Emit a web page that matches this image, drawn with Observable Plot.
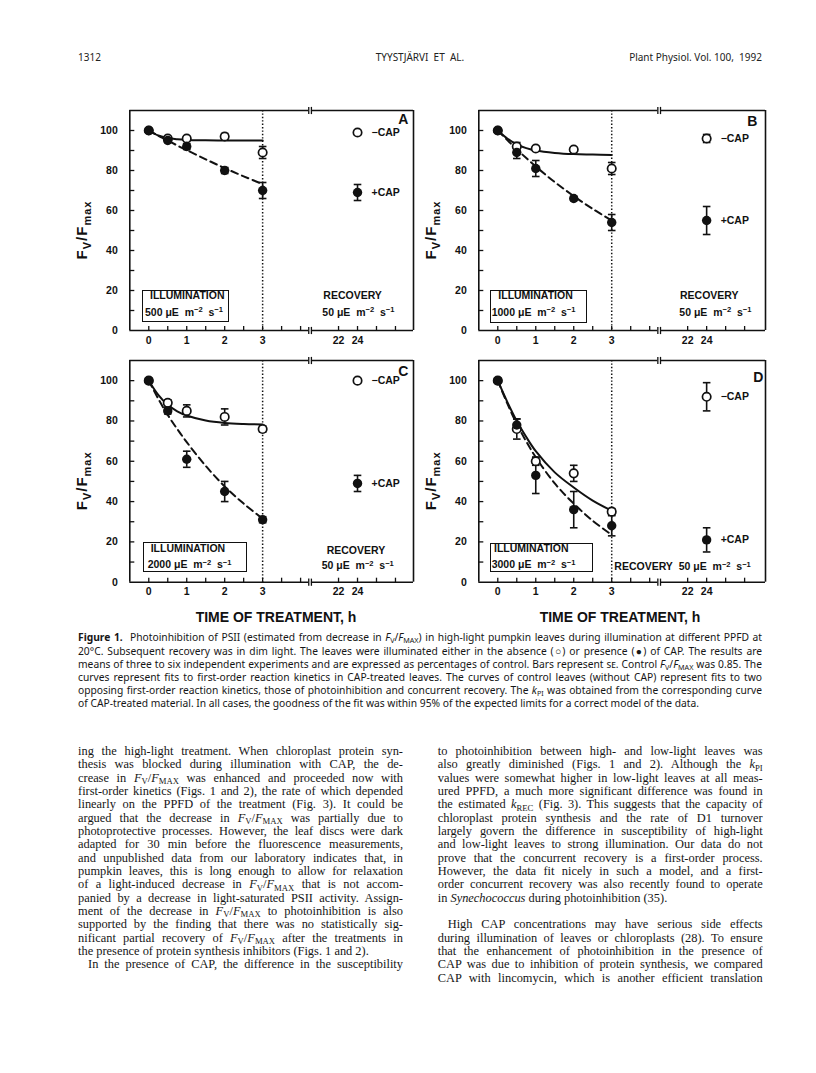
<!DOCTYPE html>
<html><head><meta charset="utf-8">
<script src="https://cdn.jsdelivr.net/npm/d3@7"></script>
<script src="https://cdn.jsdelivr.net/npm/@observablehq/plot@0.6"></script>
<style>
html,body{margin:0;padding:0;background:#fff;}
#page{position:relative;width:816px;height:1073px;overflow:hidden;background:#fff;color:#161616;}
.a{position:absolute;white-space:nowrap;}
.pl{font-family:"Liberation Sans",Arial,sans-serif;font-weight:bold;font-size:10.5px;line-height:12px;color:#111;}
.box{position:absolute;border:1.4px solid #111;box-sizing:border-box;}
.pl sup{font-size:72%;position:relative;top:-0.42em;vertical-align:baseline;line-height:0;}
sub.s{font-size:70%;vertical-align:baseline;position:relative;top:0.28em;line-height:0;}
.sc{font-variant:small-caps;}
.ttl{font-family:"Liberation Sans",Arial,sans-serif;font-weight:bold;font-size:14px;line-height:16px;color:#111;}
.hdr{font-family:"Noto Sans","Open Sans",sans-serif;font-size:10px;line-height:12px;color:#222;}
</style></head><body><div id="page"></div>
<script>
// ---------------- data ----------------
const panelLetters = ["A", "B", "C", "D"];
const illuminationPPFD = [500, 1000, 2000, 3000];
const recoveryPPFD = 50;
const hours = [0, 0.5, 1, 2, 3];
const recoveryHour = 24;
const lightOffHour = 3;
const fitHours = [0, 0.25, 0.5, 0.75, 1, 1.5, 2, 2.5, 3];

// -CAP (open circles) means and SE
const minusCAP_A = [100, 96, 96, 97, 89];
const minusCAP_A_se = [0, 1, 1, 1.5, 3];
const minusCAP_B = [100, 92, 91, 90.5, 81];
const minusCAP_B_se = [0, 2, 1, 1, 3];
const minusCAP_C = [100, 89, 85, 82, 76];
const minusCAP_C_se = [0, 1.5, 3, 4, 1.5];
const minusCAP_D = [100, 76, 60, 54, 35];
const minusCAP_D_se = [0, 5, 2, 4, 1.5];

// +CAP (filled circles) means and SE
const plusCAP_A = [100, 95, 92, 80, 70];
const plusCAP_A_se = [0, 1, 1.5, 1.5, 4];
const plusCAP_B = [100, 89, 81, 66, 54];
const plusCAP_B_se = [0, 3, 4, 1, 4];
const plusCAP_C = [100, 85, 61, 45, 31];
const plusCAP_C_se = [0, 1.5, 4, 5, 1.5];
const plusCAP_D = [100, 78, 53, 36, 28];
const plusCAP_D_se = [0, 3, 9, 9, 5];

// recovery at 24 h (panels A-D)
const recoveryMinusCAP = [99, 96, 100, 92];
const recoveryMinusCAP_se = [1, 2, 1, 7];
const recoveryPlusCAP = [69, 55, 49, 21];
const recoveryPlusCAP_se = [4, 7, 4, 6];

// fitted curves at fitHours
const fitMinusCAP_A = [100, 97.5, 96.2, 95.6, 95.3, 95.1, 95, 95, 95];
const fitPlusCAP_A  = [100, 97.4, 95, 92.5, 90.2, 85.6, 81.2, 77.1, 73.2];
const fitMinusCAP_B = [100, 96, 93, 91.2, 90, 88.8, 88.2, 88, 87.8];
const fitPlusCAP_B  = [100, 95.2, 90.6, 86.2, 82, 74.2, 67.2, 60.8, 55];
const fitMinusCAP_C = [100, 93, 88, 84.8, 82.7, 80.2, 79, 78.5, 78.3];
const fitPlusCAP_C  = [100, 91, 83, 76, 69.5, 57.7, 47.5, 39, 31.5];
const fitMinusCAP_D = [100, 89.5, 80, 72, 65, 54.5, 47, 40.5, 35.5];
const fitPlusCAP_D  = [100, 88.7, 78.5, 69.8, 62, 49, 39, 30.5, 23.5];

const xTickHours = [0, 1, 2, 3, 22, 24];
const xMinorTickHours = [0, 0.5, 1, 1.5, 2, 2.5, 3, 3.5, 4, 22, 24, 26, 28];
const yTickValues = [0, 20, 40, 60, 80, 100];
const yMinorTickValues = [10, 20, 30, 40, 50, 60, 70, 80, 90, 100];
const seriesLabels = ["\u2212CAP", "+CAP"];

const minusSeries = [minusCAP_A, minusCAP_B, minusCAP_C, minusCAP_D];
const minusSeriesSE = [minusCAP_A_se, minusCAP_B_se, minusCAP_C_se, minusCAP_D_se];
const plusSeries = [plusCAP_A, plusCAP_B, plusCAP_C, plusCAP_D];
const plusSeriesSE = [plusCAP_A_se, plusCAP_B_se, plusCAP_C_se, plusCAP_D_se];
const fitMinusSeries = [fitMinusCAP_A, fitMinusCAP_B, fitMinusCAP_C, fitMinusCAP_D];
const fitPlusSeries = [fitPlusCAP_A, fitPlusCAP_B, fitPlusCAP_C, fitPlusCAP_D];

// ---------------- broken time axis ----------------
const BREAK_U = 4.25, RIGHT_ORIGIN_HOUR = 19, RIGHT_HOURS_PER_UNIT = 4;
const brk = t => t <= BREAK_U ? t : BREAK_U + (t - RIGHT_ORIGIN_HOUR) / RIGHT_HOURS_PER_UNIT;

const sym = f => ({draw(ctx, size) { f(ctx, Math.sqrt(size / Math.PI)); }});
const capSym = sym((c, r) => { c.moveTo(-r, 0); c.lineTo(r, 0); });
const hTickSym = sym((c, r) => { c.moveTo(0, 0); c.lineTo(r, 0); });
const upTickSym = sym((c, r) => { c.moveTo(0, 0); c.lineTo(0, -r); });
const vBarSym = sym((c, r) => { c.moveTo(0, -r); c.lineTo(0, r); });

const page = document.getElementById("page");
const INK = "#111";

const layouts = [
  {left: 80,  top: 100, width: 340, height: 255, mL: 49.3, mR: 7,  mT: 10, mB: 25,   xMaxHour: 29.9},
  {left: 430, top: 100, width: 345, height: 255, mL: 48.3, mR: 10, mT: 10, mB: 25,   xMaxHour: 30.2},
  {left: 80,  top: 350, width: 340, height: 257, mL: 49.3, mR: 7,  mT: 10, mB: 25.3, xMaxHour: 29.9},
  {left: 430, top: 350, width: 345, height: 257, mL: 48.3, mR: 10, mT: 10, mB: 25.3, xMaxHour: 30.2}
];

function buildPanel(i) {
  const lay = layouts[i];
  const pts = [];
  hours.forEach((h, j) => {
    pts.push({t: h, v: minusSeries[i][j], se: minusSeriesSE[i][j], g: "minus"});
    pts.push({t: h, v: plusSeries[i][j], se: plusSeriesSE[i][j], g: "plus"});
  });
  pts.push({t: recoveryHour, v: recoveryMinusCAP[i], se: recoveryMinusCAP_se[i], g: "minus"});
  pts.push({t: recoveryHour, v: recoveryPlusCAP[i], se: recoveryPlusCAP_se[i], g: "plus"});
  const bars = pts.filter(d => d.se > 0);
  const caps = bars.flatMap(d => [{t: d.t, v: d.v - d.se}, {t: d.t, v: d.v + d.se}]);
  const fitM = fitHours.map((h, j) => ({t: h, v: fitMinusSeries[i][j]}));
  const fitP = fitHours.map((h, j) => ({t: h, v: fitPlusSeries[i][j]}));
  const labels = [
    {t: recoveryHour, v: recoveryMinusCAP[i], s: seriesLabels[0], dx: 13},
    {t: recoveryHour, v: recoveryPlusCAP[i], s: seriesLabels[1], dx: 15}
  ];
  const xMin = brk(-0.5), xMax = brk(lay.xMaxHour), yTop = 110;
  const gapL = BREAK_U - 0.035, gapR = BREAK_U + 0.035;
  const segs = [{y: 0, x1: xMin, x2: gapL}, {y: 0, x1: gapR, x2: xMax},
                {y: yTop, x1: xMin, x2: gapL}, {y: yTop, x1: gapR, x2: xMax}];
  const breaks = [{x: gapL, y: 0}, {x: gapR, y: 0}, {x: gapL, y: yTop}, {x: gapR, y: yTop}];
  const X = d => brk(d.t);
  const txt = {fontWeight: "bold", fontSize: 10.5, fill: INK};

  const svg = Plot.plot({
    width: lay.width, height: lay.height,
    marginLeft: lay.mL, marginRight: lay.mR, marginTop: lay.mT, marginBottom: lay.mB,
    x: {domain: [xMin, xMax], axis: null},
    y: {domain: [0, yTop], axis: null},
    style: {background: "transparent", overflow: "visible", fontFamily: "'Liberation Sans', Arial, sans-serif"},
    marks: [
      Plot.ruleX([brk(lightOffHour)], {stroke: INK, strokeWidth: 1.5, strokeDasharray: "1.4,2"}),
      Plot.line(fitM, {x: X, y: "v", curve: "catmull-rom", stroke: INK, strokeWidth: 2}),
      Plot.line(fitP, {x: X, y: "v", curve: "catmull-rom", stroke: INK, strokeWidth: 2, strokeDasharray: "7,4.5"}),
      Plot.ruleX([xMin, xMax], {stroke: INK, strokeWidth: 1.6}),
      Plot.ruleY(segs, {y: "y", x1: "x1", x2: "x2", stroke: INK, strokeWidth: 1.6}),
      Plot.dot(breaks, {x: "x", y: "y", symbol: vBarSym, r: 3.6, fill: "none", stroke: INK, strokeWidth: 1.3}),
      Plot.dot(yMinorTickValues, {x: () => xMin, y: d => d, symbol: hTickSym, r: 4.5, fill: "none", stroke: INK, strokeWidth: 1.3}),
      Plot.dot(xMinorTickHours, {x: d => brk(d), y: () => 0, symbol: upTickSym, r: 4.5, fill: "none", stroke: INK, strokeWidth: 1.3}),
      Plot.ruleX(bars, {x: X, y1: d => d.v - d.se, y2: d => d.v + d.se, stroke: INK, strokeWidth: 1.6}),
      Plot.dot(caps, {x: X, y: "v", symbol: capSym, r: 3.8, fill: "none", stroke: INK, strokeWidth: 1.6}),
      Plot.dot(pts.filter(d => d.g === "minus"), {x: X, y: "v", r: 4.2, fill: "white", stroke: INK, strokeWidth: 1.7}),
      Plot.dot(pts.filter(d => d.g === "plus"), {x: X, y: "v", r: 4.7, fill: INK}),
      Plot.text(yTickValues, {y: d => d, text: d => String(d), frameAnchor: "left", textAnchor: "end", dx: -12, ...txt}),
      Plot.text(xTickHours, {x: d => brk(d), text: d => String(d), frameAnchor: "bottom", dy: 13, ...txt}),
      Plot.text(labels, {x: X, y: "v", text: "s", dx: d => 0, textAnchor: "start", ...txt, dx: 14})
    ]
  });
  svg.style.position = "absolute";
  svg.style.left = lay.left + "px";
  svg.style.top = lay.top + "px";
  const plotH = lay.height - lay.mT - lay.mB;
  const t = d3.select(svg).append("text")
    .attr("transform", `translate(${lay.mL - 42},${lay.mT + plotH / 2 + 10}) rotate(-90)`)
    .attr("text-anchor", "middle").attr("font-weight", "bold").attr("font-size", 15)
    .attr("letter-spacing", 1).attr("fill", INK)
    .attr("font-family", "'Liberation Sans', Arial, sans-serif");
  t.append("tspan").text("F");
  t.append("tspan").attr("font-size", 11).attr("dy", 4).text("V");
  t.append("tspan").attr("font-size", 15).attr("dy", -4).text("/F");
  t.append("tspan").attr("font-size", 11).attr("dy", 4).text("max");
  page.appendChild(svg);
}
[0, 1, 2, 3].forEach(buildPanel);

// ---------------- in-panel annotations ----------------
function put(html, x, yc, cls, extra) {
  const d = document.createElement("div");
  d.className = "a " + cls;
  d.innerHTML = html;
  d.style.left = x + "px";
  d.style.top = (yc - 6) + "px";
  if (extra) Object.assign(d.style, extra);
  page.appendChild(d);
  return d;
}
const unit = "&nbsp;\u03bcE&nbsp; m<sup>\u22122</sup>&nbsp; s<sup>\u22121</sup>";
const boxes = [
  {l: 141.7, t: 290, w: 87, h: 32, ix: 150, vx: 145, y1: 295, y2: 311.5},
  {l: 490, t: 290, w: 97, h: 32.5, ix: 498.3, vx: 491.7, y1: 295, y2: 311.5},
  {l: 143.3, t: 542, w: 103.4, h: 29.5, ix: 150.7, vx: 147.7, y1: 547.8, y2: 564},
  {l: 490, t: 543, w: 103.3, h: 28.5, ix: 494, vx: 491.7, y1: 548, y2: 564.3}
];
boxes.forEach((b, i) => {
  const d = document.createElement("div");
  d.className = "box";
  Object.assign(d.style, {left: b.l + "px", top: b.t + "px", width: b.w + "px", height: b.h + "px"});
  page.appendChild(d);
  put("ILLUMINATION", b.ix, b.y1, "pl");
  put(illuminationPPFD[i] + unit, b.vx, b.y2, "pl");
});
const rec = [
  [[323.3, 295, "RECOVERY"], [322.3, 311.5, recoveryPPFD + unit]],
  [[680, 295, "RECOVERY"], [679.3, 311.5, recoveryPPFD + unit]],
  [[326.7, 550.3, "RECOVERY"], [321.7, 564.7, recoveryPPFD + unit]],
  [[614.3, 565.8, "RECOVERY&nbsp; " + recoveryPPFD + unit]]
];
rec.forEach(r => r.forEach(([x, y, h]) => put(h, x, y, "pl")));
const letterPos = [[408.3, 118.5], [757.3, 121.3], [408.3, 370.5], [763.3, 376.7]];
panelLetters.forEach((L, i) => {
  put(L, letterPos[i][0] - 30, letterPos[i][1], "pl", {width: "30px", textAlign: "right", fontSize: "14px"});
});
put("TIME OF TREATMENT, h", 176, 617, "ttl", {width: "200px", textAlign: "center", top: "609px"});
put("TIME OF TREATMENT, h", 520, 617, "ttl", {width: "200px", textAlign: "center", top: "609px"});

// ---------------- header ----------------
put("1312", 78, 57, "hdr");
put("TYYSTJ\u00c4RVI&nbsp; ET&nbsp; AL.", 320, 57, "hdr", {width: "200px", textAlign: "center"});
put("Plant Physiol. Vol. 100,&nbsp; 1992", 562, 57, "hdr", {width: "200px", textAlign: "right"});

// ---------------- text blocks ----------------
function block(lines, o) {
  const els = [];
  lines.forEach((ln, i) => {
    if (!ln.h) return;
    const d = document.createElement("div");
    d.style.cssText = `position:absolute;left:${o.left}px;top:${o.top + i * o.lh - o.lh / 2}px;width:${o.width}px;line-height:${o.lh}px;font-family:${o.font};font-size:${o.size}px;white-space:nowrap;color:#161616;`;
    const s = document.createElement("span");
    s.innerHTML = ln.h;
    d.appendChild(s);
    if (ln.ind) d.style.textIndent = ln.ind + "px";
    page.appendChild(d);
    els.push({d, s, ln});
  });
  let ratio = 1;
  els.forEach(({s, ln}) => {
    const w = s.getBoundingClientRect().width + (ln.ind || 0);
    if (w > 0) ratio = Math.min(ratio, o.width / w);
  });
  const fs = o.size * ratio * 0.992;
  els.forEach(({d, ln}) => {
    d.style.fontSize = fs + "px";
    d.style.whiteSpace = "normal";
    d.style.textAlign = ln.last ? "left" : "justify";
    d.style.textAlignLast = ln.last ? "left" : "justify";
  });
}
const FV = '<i>F</i><sub class="s">V</sub>/<i>F</i><sub class="s">MAX</sub>';
block([
  {h: '<b>Figure 1.</b>&nbsp; Photoinhibition of PSII (estimated from decrease in ' + FV + ') in high-light pumpkin leaves during illumination at different PPFD at'},
  {h: '20\u00b0C. Subsequent recovery was in dim light. The leaves were illuminated either in the absence (\u25cb) or presence (\u25cf) of CAP. The results are'},
  {h: 'means of three to six independent experiments and are expressed as percentages of control. Bars represent <span class="sc">se</span>. Control ' + FV + ' was 0.85. The'},
  {h: 'curves represent fits to first-order reaction kinetics in CAP-treated leaves. The curves of control leaves (without CAP) represent fits to two'},
  {h: 'opposing first-order reaction kinetics, those of photoinhibition and concurrent recovery. The <i>k</i><sub class="s">PI</sub> was obtained from the corresponding curve'},
  {h: 'of CAP-treated material. In all cases, the goodness of the fit was within 95% of the expected limits for a correct model of the data.', last: true}
], {left: 78, top: 638, width: 684, lh: 13.1, font: "'Noto Sans', 'Open Sans', sans-serif", size: 10.5});

const serif = "'Liberation Serif', 'DejaVu Serif', serif";
block([
  {h: 'ing the high-light treatment. When chloroplast protein syn-'},
  {h: 'thesis was blocked during illumination with CAP, the de-'},
  {h: 'crease in ' + FV + ' was enhanced and proceeded now with'},
  {h: 'first-order kinetics (Figs. 1 and 2), the rate of which depended'},
  {h: 'linearly on the PPFD of the treatment (Fig. 3). It could be'},
  {h: 'argued that the decrease in ' + FV + ' was partially due to'},
  {h: 'photoprotective processes. However, the leaf discs were dark'},
  {h: 'adapted for 30 min before the fluorescence measurements,'},
  {h: 'and unpublished data from our laboratory indicates that, in'},
  {h: 'pumpkin leaves, this is long enough to allow for relaxation'},
  {h: 'of a light-induced decrease in ' + FV + ' that is not accom-'},
  {h: 'panied by a decrease in light-saturated PSII activity. Assign-'},
  {h: 'ment of the decrease in ' + FV + ' to photoinhibition is also'},
  {h: 'supported by the finding that there was no statistically sig-'},
  {h: 'nificant partial recovery of ' + FV + ' after the treatments in'},
  {h: 'the presence of protein synthesis inhibitors (Figs. 1 and 2).', last: true},
  {h: 'In the presence of CAP, the difference in the susceptibility', ind: 10}
], {left: 78, top: 751.7, width: 325, lh: 13.33, font: serif, size: 12.5});
block([
  {h: 'to photoinhibition between high- and low-light leaves was'},
  {h: 'also greatly diminished (Figs. 1 and 2). Although the <i>k</i><sub class="s">PI</sub>'},
  {h: 'values were somewhat higher in low-light leaves at all meas-'},
  {h: 'ured PPFD, a much more significant difference was found in'},
  {h: 'the estimated <i>k</i><sub class="s">REC</sub> (Fig. 3). This suggests that the capacity of'},
  {h: 'chloroplast protein synthesis and the rate of D1 turnover'},
  {h: 'largely govern the difference in susceptibility of high-light'},
  {h: 'and low-light leaves to strong illumination. Our data do not'},
  {h: 'prove that the concurrent recovery is a first-order process.'},
  {h: 'However, the data fit nicely in such a model, and a first-'},
  {h: 'order concurrent recovery was also recently found to operate'},
  {h: 'in <i>Synechococcus</i> during photoinhibition (35).', last: true},
  {h: ''},
  {h: 'High CAP concentrations may have serious side effects', ind: 10},
  {h: 'during illumination of leaves or chloroplasts (28). To ensure'},
  {h: 'that the enhancement of photoinhibition in the presence of'},
  {h: 'CAP was due to inhibition of protein synthesis, we compared'},
  {h: 'CAP with lincomycin, which is another efficient translation'}
], {left: 437.7, top: 751.7, width: 325, lh: 13.33, font: serif, size: 12.5});
</script></body></html>
